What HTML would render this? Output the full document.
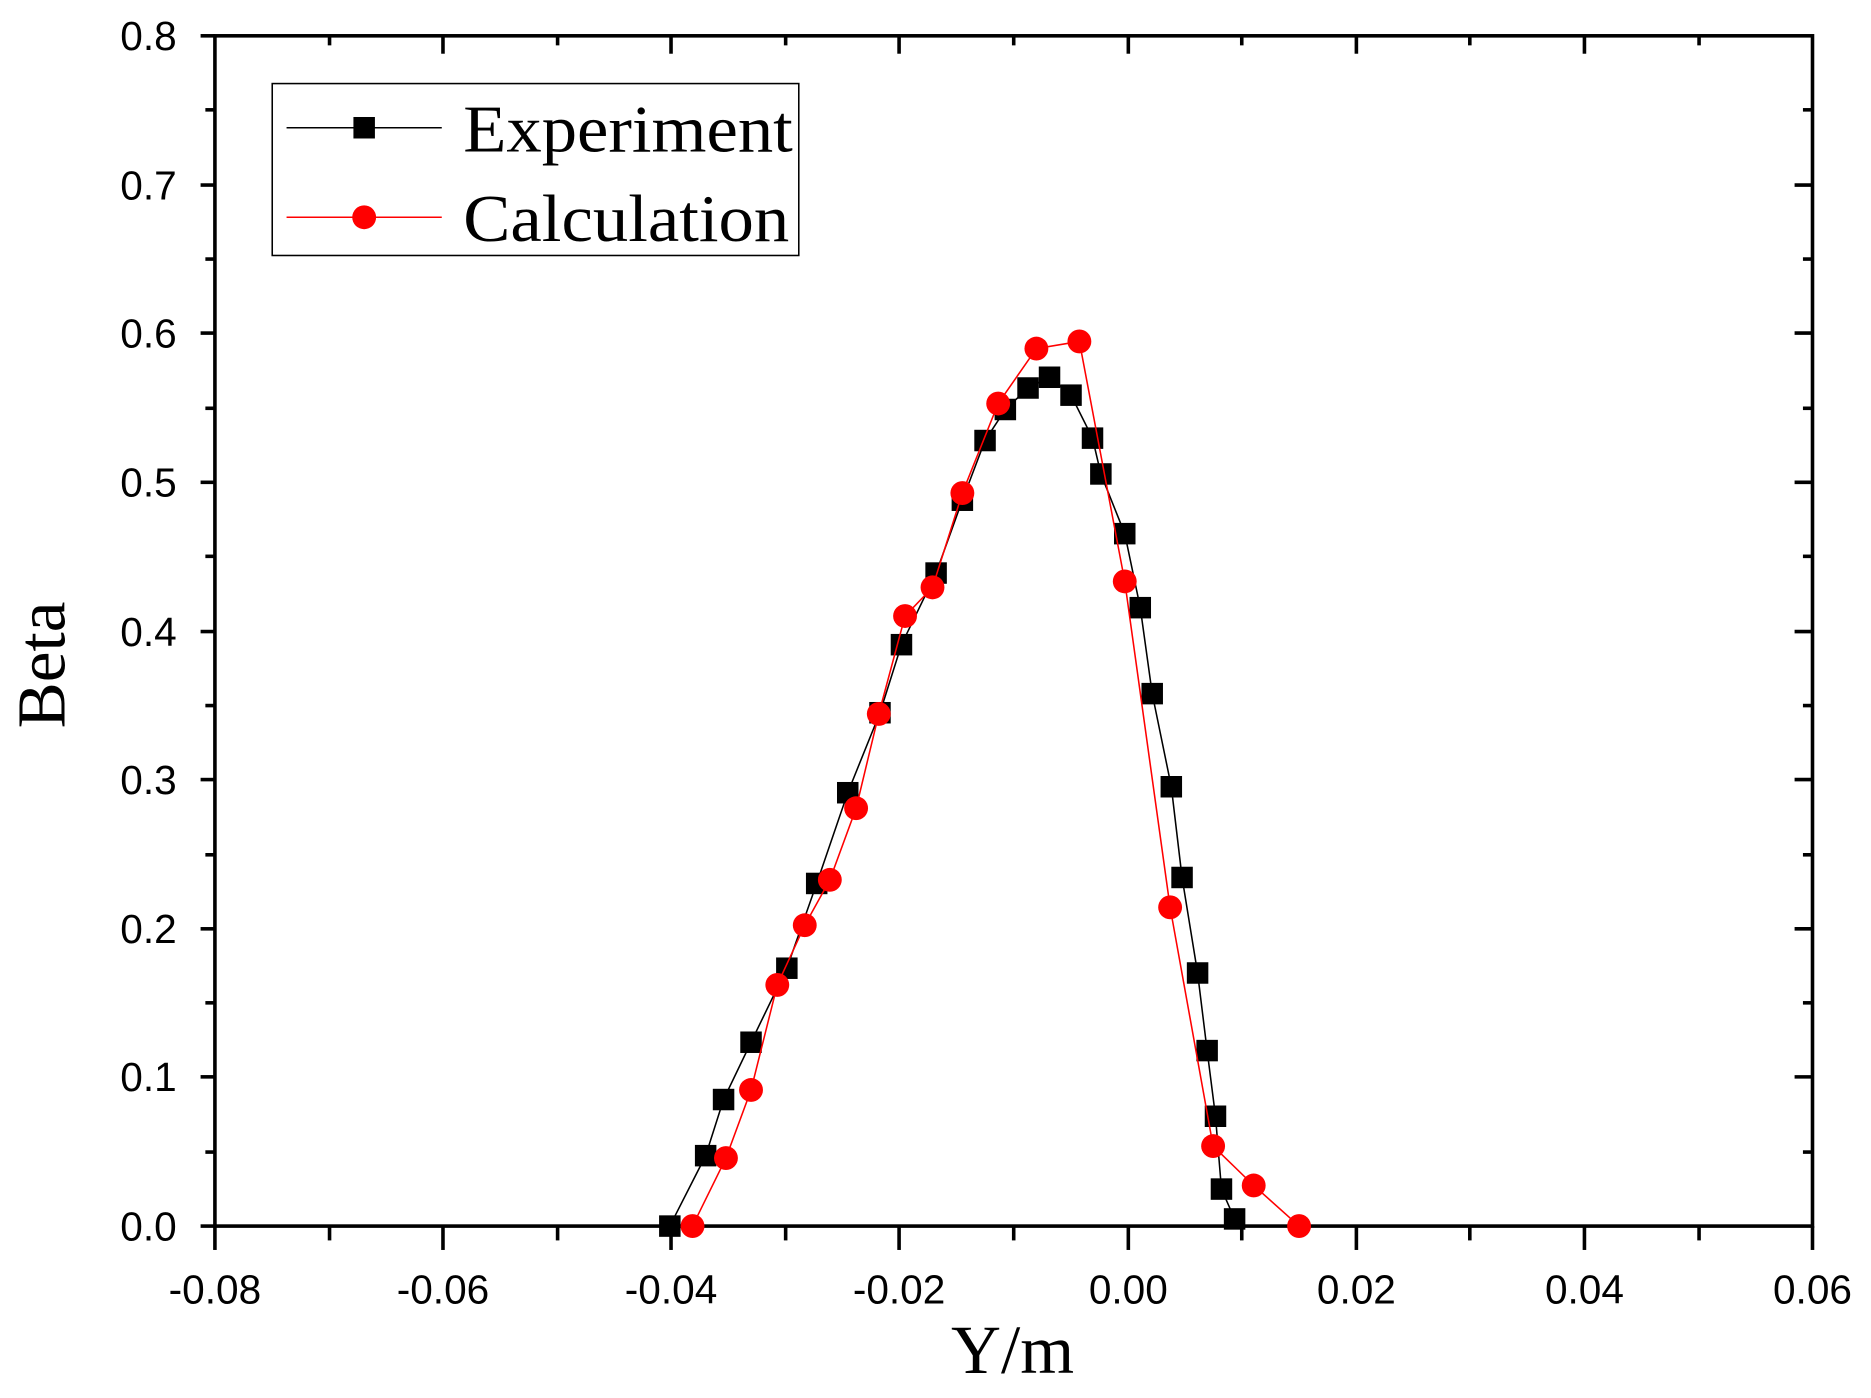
<!DOCTYPE html>
<html><head><style>html,body{margin:0;padding:0;background:#fff}svg{display:block}</style></head><body>
<svg width="1871" height="1398" viewBox="0 0 1567 1171" preserveAspectRatio="none" xmlns="http://www.w3.org/2000/svg">
<rect width="1567" height="1171" fill="#fff"/>
<g stroke="#000" stroke-width="3" fill="none">
<rect x="180" y="30" width="1338" height="997"/>
</g>
<g stroke="#000" stroke-width="3">
<line x1="180" y1="1027" x2="180" y2="1047"/><line x1="371" y1="1027" x2="371" y2="1047"/><line x1="562" y1="1027" x2="562" y2="1047"/><line x1="753" y1="1027" x2="753" y2="1047"/><line x1="945" y1="1027" x2="945" y2="1047"/><line x1="1136" y1="1027" x2="1136" y2="1047"/><line x1="1327" y1="1027" x2="1327" y2="1047"/><line x1="1518" y1="1027" x2="1518" y2="1047"/>
<line x1="276" y1="1027" x2="276" y2="1039"/><line x1="467" y1="1027" x2="467" y2="1039"/><line x1="658" y1="1027" x2="658" y2="1039"/><line x1="849" y1="1027" x2="849" y2="1039"/><line x1="1040" y1="1027" x2="1040" y2="1039"/><line x1="1231" y1="1027" x2="1231" y2="1039"/><line x1="1423" y1="1027" x2="1423" y2="1039"/>
<line x1="371" y1="30" x2="371" y2="45"/><line x1="562" y1="30" x2="562" y2="45"/><line x1="753" y1="30" x2="753" y2="45"/><line x1="945" y1="30" x2="945" y2="45"/><line x1="1136" y1="30" x2="1136" y2="45"/><line x1="1327" y1="30" x2="1327" y2="45"/>
<line x1="276" y1="30" x2="276" y2="38"/><line x1="467" y1="30" x2="467" y2="38"/><line x1="658" y1="30" x2="658" y2="38"/><line x1="849" y1="30" x2="849" y2="38"/><line x1="1040" y1="30" x2="1040" y2="38"/><line x1="1231" y1="30" x2="1231" y2="38"/><line x1="1423" y1="30" x2="1423" y2="38"/>
<line x1="168" y1="1027" x2="180" y2="1027"/><line x1="168" y1="902" x2="180" y2="902"/><line x1="168" y1="778" x2="180" y2="778"/><line x1="168" y1="653" x2="180" y2="653"/><line x1="168" y1="529" x2="180" y2="529"/><line x1="168" y1="404" x2="180" y2="404"/><line x1="168" y1="279" x2="180" y2="279"/><line x1="168" y1="155" x2="180" y2="155"/><line x1="168" y1="30" x2="180" y2="30"/>
<line x1="172" y1="965" x2="180" y2="965"/><line x1="172" y1="840" x2="180" y2="840"/><line x1="172" y1="716" x2="180" y2="716"/><line x1="172" y1="591" x2="180" y2="591"/><line x1="172" y1="466" x2="180" y2="466"/><line x1="172" y1="342" x2="180" y2="342"/><line x1="172" y1="217" x2="180" y2="217"/><line x1="172" y1="92" x2="180" y2="92"/>
<line x1="1503" y1="902" x2="1518" y2="902"/><line x1="1503" y1="778" x2="1518" y2="778"/><line x1="1503" y1="653" x2="1518" y2="653"/><line x1="1503" y1="529" x2="1518" y2="529"/><line x1="1503" y1="404" x2="1518" y2="404"/><line x1="1503" y1="279" x2="1518" y2="279"/><line x1="1503" y1="155" x2="1518" y2="155"/>
<line x1="1510" y1="965" x2="1518" y2="965"/><line x1="1510" y1="840" x2="1518" y2="840"/><line x1="1510" y1="716" x2="1518" y2="716"/><line x1="1510" y1="591" x2="1518" y2="591"/><line x1="1510" y1="466" x2="1518" y2="466"/><line x1="1510" y1="342" x2="1518" y2="342"/><line x1="1510" y1="217" x2="1518" y2="217"/><line x1="1510" y1="92" x2="1518" y2="92"/>
</g>
<g font-family="Liberation Sans, sans-serif" font-size="34" fill="#000" text-anchor="end">
<text x="148" y="1039">0.0</text><text x="148" y="914">0.1</text><text x="148" y="790">0.2</text><text x="148" y="665">0.3</text><text x="148" y="541">0.4</text><text x="148" y="416">0.5</text><text x="148" y="291">0.6</text><text x="148" y="167">0.7</text><text x="148" y="42">0.8</text>
</g>
<g font-family="Liberation Sans, sans-serif" font-size="34" fill="#000" text-anchor="middle">
<text x="180" y="1092">-0.08</text><text x="371" y="1092">-0.06</text><text x="562" y="1092">-0.04</text><text x="753" y="1092">-0.02</text><text x="945" y="1092">0.00</text><text x="1136" y="1092">0.02</text><text x="1327" y="1092">0.04</text><text x="1518" y="1092">0.06</text>
</g>
<text x="848" y="1150" font-family="Liberation Serif, serif" font-size="58" text-anchor="middle">Y/m</text>
<text transform="translate(54,557) rotate(-90)" font-family="Liberation Serif, serif" font-size="58" text-anchor="middle">Beta</text>
<polyline fill="none" stroke="#000" stroke-width="1.3" points="561,1027 591,968 606,921 629,873 659,811 684,740 710,664 737,597 755,540 784,480 806,419 825,369 842,343 861,325 879,316 897,331 915,367 922,397 942,447 955,509 965,581 981,659 990,735 1003,815 1011,880 1018,935 1023,996 1034,1021"/>
<g fill="#000">
<rect x="552" y="1018" width="18" height="18"/><rect x="582" y="959" width="18" height="18"/><rect x="597" y="912" width="18" height="18"/><rect x="620" y="864" width="18" height="18"/><rect x="650" y="802" width="18" height="18"/><rect x="675" y="731" width="18" height="18"/><rect x="701" y="655" width="18" height="18"/><rect x="728" y="588" width="18" height="18"/><rect x="746" y="531" width="18" height="18"/><rect x="775" y="471" width="18" height="18"/><rect x="797" y="410" width="18" height="18"/><rect x="816" y="360" width="18" height="18"/><rect x="833" y="334" width="18" height="18"/><rect x="852" y="316" width="18" height="18"/><rect x="870" y="307" width="18" height="18"/><rect x="888" y="322" width="18" height="18"/><rect x="906" y="358" width="18" height="18"/><rect x="913" y="388" width="18" height="18"/><rect x="933" y="438" width="18" height="18"/><rect x="946" y="500" width="18" height="18"/><rect x="956" y="572" width="18" height="18"/><rect x="972" y="650" width="18" height="18"/><rect x="981" y="726" width="18" height="18"/><rect x="994" y="806" width="18" height="18"/><rect x="1002" y="871" width="18" height="18"/><rect x="1009" y="926" width="18" height="18"/><rect x="1014" y="987" width="18" height="18"/><rect x="1025" y="1012" width="18" height="18"/>
</g>
<polyline fill="none" stroke="#f00" stroke-width="1.3" points="580,1027 608,970 629,913 651,825 674,775 695,737 717,677 736,598 758,516 781,492 806,413 836,338 868,292 904,286 942,487 980,760 1016,960 1050,993 1088,1027"/>
<g fill="#f00">
<circle cx="580" cy="1027" r="10"/><circle cx="608" cy="970" r="10"/><circle cx="629" cy="913" r="10"/><circle cx="651" cy="825" r="10"/><circle cx="674" cy="775" r="10"/><circle cx="695" cy="737" r="10"/><circle cx="717" cy="677" r="10"/><circle cx="736" cy="598" r="10"/><circle cx="758" cy="516" r="10"/><circle cx="781" cy="492" r="10"/><circle cx="806" cy="413" r="10"/><circle cx="836" cy="338" r="10"/><circle cx="868" cy="292" r="10"/><circle cx="904" cy="286" r="10"/><circle cx="942" cy="487" r="10"/><circle cx="980" cy="760" r="10"/><circle cx="1016" cy="960" r="10"/><circle cx="1050" cy="993" r="10"/><circle cx="1088" cy="1027" r="10"/>
</g>
<rect x="228" y="70" width="441" height="144" fill="#fff" stroke="#000" stroke-width="1.3"/>
<line x1="240" y1="107" x2="370" y2="107" stroke="#000" stroke-width="1.3"/>
<rect x="296" y="98" width="18" height="18" fill="#000"/>
<line x1="240" y1="182" x2="370" y2="182" stroke="#f00" stroke-width="1.3"/>
<circle cx="305" cy="182" r="10" fill="#f00"/>
<g font-family="Liberation Serif, serif" font-size="56" fill="#000">
<text x="388" y="127" textLength="276" lengthAdjust="spacingAndGlyphs">Experiment</text>
<text x="388" y="202" textLength="273" lengthAdjust="spacingAndGlyphs">Calculation</text>
</g>
</svg>
</body></html>
